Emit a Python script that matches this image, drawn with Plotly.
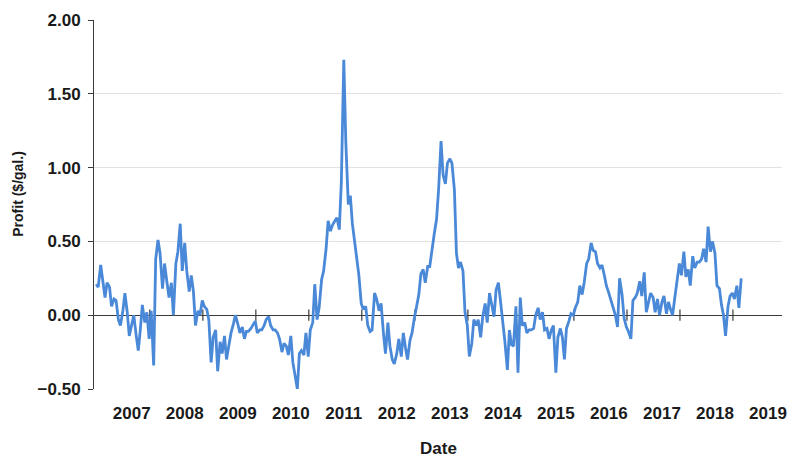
import pandas as pd
import plotly.graph_objects as go

# profit ($/gal.), two readings per month starting May 2006
profit = [
    0.21, 0.19, 0.34, 0.22, 0.12, 0.22, 0.19, 0.06, 0.11, 0.10, -0.03, -0.07,
    0.03, 0.15, 0.02, -0.14, -0.07, 0.00, -0.14, -0.24, -0.10, 0.07, -0.05, 0.02,
    -0.16, 0.03, -0.34, 0.38, 0.51, 0.42, 0.18, 0.35, 0.22, 0.12, 0.22, 0.00,
    0.35, 0.43, 0.62, 0.30, 0.49, 0.30, 0.16, 0.27, 0.16, -0.07, 0.03, 0.00,
    0.10, 0.06, 0.04, -0.03, -0.32, -0.15, -0.10, -0.38, -0.18, -0.26, -0.14, -0.30,
    -0.20, -0.12, -0.06, 0.00, -0.06, -0.12, -0.08, -0.16, -0.11, -0.11, -0.09, -0.07,
    -0.04, -0.12, -0.10, -0.10, -0.07, -0.03, -0.01, -0.07, -0.10, -0.10, -0.12, -0.16,
    -0.25, -0.19, -0.21, -0.27, -0.14, -0.32, -0.43, -0.50, -0.26, -0.24, -0.27, -0.12,
    -0.28, -0.10, -0.05, 0.21, -0.03, 0.05, 0.24, 0.30, 0.45, 0.64, 0.57, 0.61,
    0.64, 0.66, 0.58, 0.90, 1.73, 1.17, 0.75, 0.81, 0.62, 0.51, 0.35, 0.27,
    0.08, 0.04, 0.06, -0.07, -0.11, -0.10, 0.15, 0.11, 0.03, 0.08, -0.12, -0.26,
    -0.05, -0.21, -0.30, -0.33, -0.26, -0.16, -0.28, -0.12, -0.22, -0.30, -0.17, -0.12,
    -0.02, 0.05, 0.14, 0.28, 0.31, 0.22, 0.33, 0.33, 0.47, 0.55, 0.65, 0.85,
    1.18, 0.95, 0.89, 1.03, 1.06, 1.03, 0.85, 0.42, 0.32, 0.36, 0.30, 0.02,
    -0.07, -0.28, -0.19, -0.03, -0.07, -0.03, -0.15, -0.01, 0.08, -0.05, 0.15, 0.08,
    -0.01, 0.17, 0.22, 0.10, -0.04, -0.18, -0.37, -0.10, -0.20, -0.21, 0.06, -0.39,
    0.12, -0.07, -0.05, -0.12, -0.10, -0.10, -0.09, 0.00, 0.05, -0.03, 0.02, -0.10,
    -0.09, -0.16, -0.10, -0.07, -0.39, -0.15, -0.09, -0.15, -0.30, -0.09, -0.04, 0.01,
    0.00, 0.05, 0.09, 0.20, 0.14, 0.22, 0.35, 0.38, 0.49, 0.44, 0.43, 0.35,
    0.32, 0.34, 0.27, 0.20, 0.15, 0.10, 0.04, 0.00, -0.08, 0.25, 0.14, -0.02,
    -0.08, -0.11, -0.16, 0.10, 0.12, 0.15, 0.23, 0.13, 0.29, 0.02, 0.09, 0.15,
    0.12, 0.02, 0.11, 0.00, 0.09, 0.13, 0.01, 0.09, 0.04, 0.00, 0.13, 0.22,
    0.35, 0.27, 0.43, 0.26, 0.31, 0.20, 0.40, 0.32, 0.36, 0.36, 0.38, 0.45,
    0.36, 0.60, 0.43, 0.50, 0.42, 0.20, 0.18, 0.07, 0.00, -0.14, 0.06, 0.13,
    0.15, 0.11, 0.20, 0.05, 0.25,
]
dates = pd.date_range("2006-05-01", periods=len(profit), freq="SMS")

years = list(range(2007, 2020))
year_ticks = [f"{y}-01-01" for y in years]
year_labels = [str(y) for y in years]
zero_ticks = [f"{y}-05-05" for y in range(2007, 2019)]

blue = "#4a88d8"
dark = "#3a3a3a"
grid = "#e2e2e2"

fig = go.Figure()

# little tick marks sitting on the zero line
fig.add_trace(go.Scatter(
    x=zero_ticks, y=[0] * len(zero_ticks), mode="markers",
    marker=dict(symbol="line-ns-open", size=8, color=dark,
                line=dict(color=dark, width=1.2)),
    hoverinfo="skip", showlegend=False,
))
fig.add_trace(go.Scatter(
    x=dates, y=profit, mode="lines",
    line=dict(color=blue, width=2.8),
    showlegend=False,
))

fig.update_layout(
    width=790, height=459,
    margin=dict(l=94, r=8, t=20, b=70),
    plot_bgcolor="white", paper_bgcolor="white",
    font=dict(family="Liberation Sans, Arial, sans-serif", color="#1a1a1a"),
    xaxis=dict(
        type="date", range=["2006-04-16", "2019-04-08"],
        tickvals=year_ticks, ticktext=year_labels,
        tickfont=dict(size=17, family="Liberation Sans", weight="bold"),
        showgrid=False, showline=False, zeroline=False, ticks="",
        ticklabelstandoff=12, automargin=False,
    ),
    yaxis=dict(
        range=[-0.5, 2.0], tickvals=[-0.5, 0, 0.5, 1.0, 1.5, 2.0],
        tickformat=".2f",
        tickfont=dict(size=17, family="Liberation Sans", weight="bold"),
        showgrid=True, gridcolor=grid, gridwidth=1,
        showline=True, linecolor=dark, linewidth=1,
        ticks="outside", ticklen=5, tickcolor=dark,
        zeroline=True, zerolinecolor=dark, zerolinewidth=1.2,
        ticklabelstandoff=4, automargin=False,
    ),
    annotations=[
        dict(text="Profit ($/gal.)", xref="paper", yref="paper",
             x=-0.11, y=0.53, textangle=-90, showarrow=False,
             xanchor="center", yanchor="middle",
             font=dict(size=14, family="Liberation Sans", weight="bold")),
        dict(text="Date", xref="paper", yref="paper",
             x=0.5, y=-0.16, showarrow=False,
             xanchor="center", yanchor="middle",
             font=dict(size=17, family="Liberation Sans", weight="bold")),
    ],
)

# drop the default body margin so the 790x459 figure fills the window exactly
fig.write_html("out.html", config={"displayModeBar": False},
               post_script="document.body.style.margin = '0';")
